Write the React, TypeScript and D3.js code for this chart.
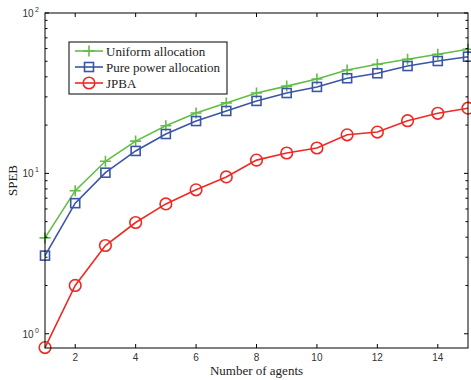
import * as d3 from "d3";

const agents = [1, 2, 3, 4, 5, 6, 7, 8, 9, 10, 11, 12, 13, 14, 15];
const uniformAlloc = [3.96, 7.8, 11.9, 15.9, 19.8, 23.8, 27.5, 31.7, 35, 38.8, 44.1, 47.9, 51.5, 55.3, 59.4];
const purePower = [3.07, 6.52, 10.1, 13.8, 17.6, 21.2, 24.5, 28.3, 31.7, 34.6, 39.2, 42.1, 46.7, 50.2, 53.4];
const jpba = [0.82, 2.0, 3.55, 4.94, 6.45, 7.9, 9.5, 12.1, 13.4, 14.4, 17.4, 18.1, 21.3, 23.7, 25.5];
const xTicks = [2, 4, 6, 8, 10, 12, 14];
const yMajor = [1, 10, 100];

const series = [
  { name: "Uniform allocation", values: uniformAlloc, color: "#62bd46", marker: "plus" },
  { name: "Pure power allocation", values: purePower, color: "#3a56a5", marker: "square" },
  { name: "JPBA", values: jpba, color: "#ee2a24", marker: "circle" },
];

const W = 471;
const H = 380;
const margin = { top: 13, right: 3, bottom: 32, left: 45 };

const Marker = ({ type, x, y, color }: { type: string; x: number; y: number; color: string }) => {
  if (type === "plus")
    return <path d={`M${x - 5.5},${y}H${x + 5.5}M${x},${y - 5.5}V${y + 5.5}`} stroke={color} strokeWidth={1.6} />;
  if (type === "square")
    return <rect x={x - 4.5} y={y - 4.5} width={9} height={9} fill="none" stroke={color} strokeWidth={1.6} />;
  return <circle cx={x} cy={y} r={5.8} fill="none" stroke={color} strokeWidth={1.6} />;
};

export default function App() {
  const iw = W - margin.left - margin.right;
  const ih = H - margin.top - margin.bottom;
  const x = d3.scaleLinear().domain([1, 15]).range([0, iw]);
  const y = d3.scaleLog().domain([0.815, 100]).range([ih, 0]);
  const minor: number[] = [];
  [1, 10].forEach((d) => {
    for (let k = 2; k <= 9; k++) minor.push(d * k);
  });
  const line = d3
    .line<number>()
    .x((_, i) => x(agents[i]))
    .y((d) => y(d));

  return (
    <svg width={W} height={H} style={{ position: "absolute", left: 0, top: 0, background: "#fff" }}>
      <g transform={`translate(${margin.left},${margin.top})`}>
        {series.map((s) => (
          <g key={s.name}>
            <path d={line(s.values) || ""} fill="none" stroke={s.color} strokeWidth={1.6} />
            {s.values.map((v, i) => (
              <Marker key={i} type={s.marker} x={x(agents[i])} y={y(v)} color={s.color} />
            ))}
          </g>
        ))}
        <rect x={0} y={0} width={iw} height={ih} fill="none" stroke="#000" strokeWidth={1} />
        {xTicks.map((t) => (
          <g key={t}>
            <line x1={x(t)} x2={x(t)} y1={ih} y2={ih - 4} stroke="#000" />
            <line x1={x(t)} x2={x(t)} y1={0} y2={4} stroke="#000" />
            <text x={x(t)} y={ih + 13} textAnchor="middle" fontFamily="Liberation Sans, Arial" fontSize={10} fill="#333">
              {t}
            </text>
          </g>
        ))}
        {yMajor.map((t, i) => (
          <g key={t}>
            <line x1={0} x2={4} y1={y(t)} y2={y(t)} stroke="#000" />
            <line x1={iw} x2={iw - 4} y1={y(t)} y2={y(t)} stroke="#000" />
            <text x={-17} y={y(t) + 4} textAnchor="middle" fontFamily="Liberation Sans, Arial" fontSize={10} fill="#333">
              10
            </text>
            <text x={-8} y={y(t) - 1} textAnchor="middle" fontFamily="Liberation Sans, Arial" fontSize={7} fill="#333">
              {i}
            </text>
          </g>
        ))}
        {minor.map((t) => (
          <g key={t}>
            <line x1={0} x2={2.5} y1={y(t)} y2={y(t)} stroke="#000" />
            <line x1={iw} x2={iw - 2.5} y1={y(t)} y2={y(t)} stroke="#000" />
          </g>
        ))}
        <g transform="translate(24,29)">
          <rect x={0} y={0} width={158} height={52} fill="#fff" stroke="#000" strokeWidth={1} />
          {series.map((s, i) => (
            <g key={s.name} transform={`translate(0,${9 + i * 16})`}>
              <line x1={6} x2={34} y1={0} y2={0} stroke={s.color} strokeWidth={1.6} />
              <Marker type={s.marker} x={20} y={0} color={s.color} />
              <text x={37} y={4.5} fontFamily="Liberation Serif, Times New Roman" fontSize={13} fill="#222">
                {s.name}
              </text>
            </g>
          ))}
        </g>
      </g>
      <text x={margin.left + iw / 2} y={375} textAnchor="middle" fontFamily="Liberation Serif, Times New Roman" fontSize={13} fill="#222">
        Number of agents
      </text>
      <text transform={`translate(17,${margin.top + ih / 2}) rotate(-90)`} textAnchor="middle" fontFamily="Liberation Serif, Times New Roman" fontSize={13} fill="#222">
        SPEB
      </text>
    </svg>
  );
}
